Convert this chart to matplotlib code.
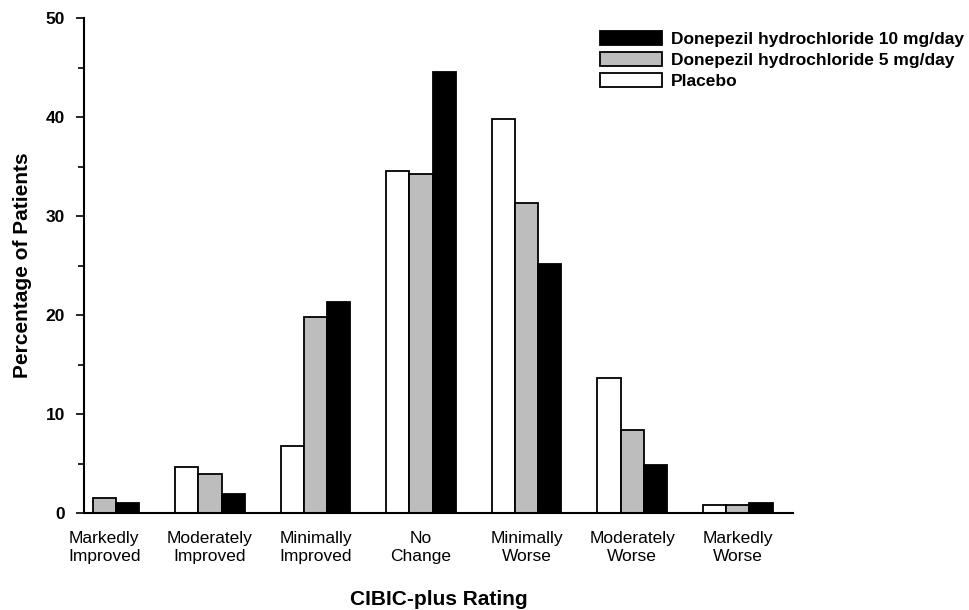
import matplotlib.pyplot as plt
import numpy as np

plt.rcParams['font.family'] = ['Liberation Sans', 'DejaVu Sans']

categories = ["Markedly\nImproved", "Moderately\nImproved", "Minimally\nImproved",
              "No\nChange", "Minimally\nWorse", "Moderately\nWorse", "Markedly\nWorse"]

placebo = [0.0, 4.6, 6.8, 34.6, 39.8, 13.6, 0.8]
dose_5mg = [1.5, 3.9, 19.8, 34.3, 31.3, 8.4, 0.8]
dose_10mg = [1.0, 1.9, 21.3, 44.6, 25.2, 4.9, 1.0]

x = np.arange(len(categories))
w = 0.22

fig = plt.figure(figsize=(9.69, 6.1), dpi=100)
ax = fig.add_axes([0.087, 0.159, 0.731, 0.811])

ax.bar(x - w, placebo, w, color="white", edgecolor="black", linewidth=1.3, label="Placebo")
ax.bar(x, dose_5mg, w, color="#bdbdbd", edgecolor="black", linewidth=1.3,
       label="Donepezil hydrochloride 5 mg/day")
ax.bar(x + w, dose_10mg, w, color="black", edgecolor="black", linewidth=1.3,
       label="Donepezil hydrochloride 10 mg/day")

ax.set_xlim(-0.19, 6.52)
ax.set_ylim(0, 50)
ax.set_yticks([0, 10, 20, 30, 40, 50])
ax.set_yticks([5, 15, 25, 35, 45], minor=True)
ax.set_yticklabels(["0", "10", "20", "30", "40", "50"], fontweight="bold", fontsize=12.5)
ax.set_xticks(x)
ax.set_xticklabels(categories, fontsize=12.5, linespacing=1.25)
ax.tick_params(axis="x", length=0, pad=13)
ax.tick_params(axis="y", which="major", length=6, width=1.2, pad=8)
ax.tick_params(axis="y", which="minor", length=4, width=1.2)

for s in ["top", "right"]:
    ax.spines[s].set_visible(False)
for s in ["left", "bottom"]:
    ax.spines[s].set_linewidth(1.5)

ax.set_xlabel("CIBIC-plus Rating", fontweight="bold", fontsize=15, labelpad=19)
ax.set_ylabel("Percentage of Patients", fontweight="bold", fontsize=15, labelpad=10)

handles, labels = ax.get_legend_handles_labels()
leg = fig.legend(handles[::-1], labels[::-1], loc="upper left",
                 bbox_to_anchor=(0.603, 0.974), frameon=False,
                 prop={"weight": "bold", "size": 12.5},
                 handlelength=3.6, handleheight=0.8, handletextpad=0.5,
                 labelspacing=0.3)

fig.savefig("out.png", dpi=100)
